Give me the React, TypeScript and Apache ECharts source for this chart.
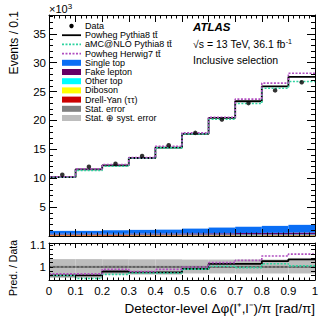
import React, { useEffect, useRef } from 'react';
import * as echarts from 'echarts';

// ---- data (x10^3 events per 0.1) ----
const binEdges = [0, 0.1, 0.2, 0.3, 0.4, 0.5, 0.6, 0.7, 0.8, 0.9, 1.0];
const dataEvents = [10.6, 12.0, 12.5, 13.85, 15.7, 17.85, 20.15, 23.0, 25.2, 26.6];
// prediction / data ratios
const ratioPythia = [0.961, 0.961, 0.979, 0.975, 0.975, 0.991, 1.014, 1.014, 1.027, 1.035];
const ratioAmc = [0.961, 0.947, 0.966, 0.972, 0.972, 0.99, 1.003, 0.997, 1.015, 1.005];
const ratioHerwig = [0.968, 0.968, 0.989, 0.979, 0.989, 1.0, 1.02, 1.03, 1.05, 1.059];
// background stack (bottom to top)
const drellYan = [0.12, 0.12, 0.11, 0.11, 0.11, 0.1, 0.1, 0.1, 0.1, 0.1];
const diboson = [0.05, 0.05, 0.05, 0.05, 0.05, 0.05, 0.05, 0.05, 0.05, 0.05];
const otherTop = [0.08, 0.08, 0.09, 0.09, 0.09, 0.1, 0.1, 0.11, 0.11, 0.12];
const fakeLepton = [0.15, 0.15, 0.16, 0.17, 0.18, 0.2, 0.22, 0.25, 0.28, 0.32];
const singleTop = [0.49, 0.49, 0.59, 0.64, 0.67, 0.83, 0.99, 1.07, 1.21, 1.34];
// ratio uncertainties
const statErr = [0.005, 0.005, 0.005, 0.005, 0.005, 0.005, 0.005, 0.005, 0.005, 0.005];
const systUp = [0.036, 0.036, 0.035, 0.035, 0.035, 0.034, 0.034, 0.034, 0.034, 0.034];
const systDown = [0.05, 0.05, 0.035, 0.035, 0.035, 0.03, 0.03, 0.03, 0.03, 0.03];
const unity = 1;
// tick labels
const xTickLabels = ['0', '0.1', '0.2', '0.3', '0.4', '0.5', '0.6', '0.7', '0.8', '0.9', '1'];
const yTickLabels = ['5', '10', '15', '20', '25', '30', '35'];
const ratioTickLabels = ['1', '1.1'];

const FONT = '"Liberation Sans", Arial, sans-serif';

const pythia = dataEvents.map((d, i) => d * ratioPythia[i]);
const amc = dataEvents.map((d, i) => d * ratioAmc[i]);
const herwig = dataEvents.map((d, i) => d * ratioHerwig[i]);

function stepPoints(vals: number[]) {
  const pts: number[][] = [];
  vals.forEach((v, i) => {
    pts.push([binEdges[i], v]);
    pts.push([binEdges[i + 1], v]);
  });
  return pts;
}

function rectSeries(rects: number[][], color: string, axisIdx: number, z: number) {
  return {
    type: 'custom',
    xAxisIndex: axisIdx,
    yAxisIndex: axisIdx,
    z,
    silent: true,
    data: rects,
    encode: { x: [0, 1], y: [2, 3] },
    renderItem: (_p: any, api: any) => {
      const a = api.coord([api.value(0), api.value(3)]);
      const b = api.coord([api.value(1), api.value(2)]);
      return {
        type: 'rect',
        shape: { x: a[0], y: a[1], width: b[0] - a[0], height: b[1] - a[1] },
        style: { fill: color },
      };
    },
  };
}

function lineSeries(vals: number[], color: string, axisIdx: number, dotted: boolean, z: number, width = 1.6) {
  return {
    type: 'line',
    xAxisIndex: axisIdx,
    yAxisIndex: axisIdx,
    z,
    silent: true,
    symbol: 'none',
    data: stepPoints(vals),
    lineStyle: { color, width, type: dotted ? [2, 1.5] : 'solid' },
  };
}

export default function App() {
  const ref = useRef<HTMLDivElement>(null);
  useEffect(() => {
    const chart = echarts.init(ref.current!, null, { renderer: 'svg' });

    const stackComps = [
      { vals: drellYan, color: '#cc0000' },
      { vals: diboson, color: '#ffff00' },
      { vals: otherTop, color: '#00ffff' },
      { vals: fakeLepton, color: '#660066' },
      { vals: singleTop, color: '#0a6ef5' },
    ];
    const cum = new Array(10).fill(0);
    const stackSeries = stackComps.map((c) => {
      const rects = c.vals.map((v, i) => {
        const r = [binEdges[i], binEdges[i + 1], cum[i], cum[i] + v];
        cum[i] += v;
        return r;
      });
      return rectSeries(rects, c.color, 0, 2);
    });

    const systRects = systUp.map((u, i) => [binEdges[i], binEdges[i + 1], unity - systDown[i], unity + u]);
    const statRects = statErr.map((s, i) => [binEdges[i], binEdges[i + 1], unity - s, unity + s]);

    const tickStyle = { color: '#000', width: 1 };
    const baseX = (grid: number, pos: string, labels: boolean) => ({
      type: 'value',
      gridIndex: grid,
      position: pos,
      min: 0,
      max: 1,
      interval: 0.1,
      z: 10,
      axisLine: { show: true, onZero: false, lineStyle: { color: '#000', width: 1 } },
      axisTick: { show: true, inside: true, length: grid === 0 ? 7 : 5, lineStyle: tickStyle },
      minorTick: { show: true, splitNumber: 5, length: grid === 0 ? 3.5 : 2.5, lineStyle: tickStyle },
      splitLine: { show: false },
      axisLabel: {
        show: labels,
        margin: 5,
        fontFamily: FONT,
        fontSize: 11.5,
        color: '#000',
        formatter: (v: number) => xTickLabels[Math.round(v * 10)] ?? '',
      },
    });
    const mainY = (pos: string, labels: boolean) => ({
      type: 'value',
      gridIndex: 0,
      position: pos,
      min: 0,
      max: 38.25,
      interval: 5,
      z: 10,
      axisLine: { show: true, onZero: false, lineStyle: { color: '#000', width: 1 } },
      axisTick: { show: true, inside: true, length: 8, lineStyle: tickStyle },
      minorTick: { show: true, splitNumber: 5, length: 4, lineStyle: tickStyle },
      splitLine: { show: false },
      axisLabel: {
        show: labels,
        margin: 3,
        fontFamily: FONT,
        fontSize: 11.5,
        color: '#000',
        formatter: (v: number) => {
          const idx = yTickLabels.indexOf(String(Math.round(v)));
          return Math.abs(v - Math.round(v)) < 1e-6 && idx >= 0 ? yTickLabels[idx] : '';
        },
      },
    });
    const ratioY = (pos: string, labels: boolean) => ({
      type: 'value',
      gridIndex: 1,
      position: pos,
      min: 0.94,
      max: 1.11,
      interval: 0.02,
      z: 10,
      axisLine: { show: true, onZero: false, lineStyle: { color: '#000', width: 1 } },
      axisTick: { show: true, inside: true, length: 4, lineStyle: tickStyle },
      splitLine: { show: false },
      axisLabel: {
        show: labels,
        margin: 3,
        fontFamily: FONT,
        fontSize: 11.5,
        color: '#000',
        formatter: (v: number) => {
          for (const t of ratioTickLabels) if (Math.abs(v - parseFloat(t)) < 1e-6) return t;
          return '';
        },
      },
    });

    const legendItems = [
      { label: 'Data', kind: 'dot', color: '#000' },
      { label: 'Powheg Pythia8 tt\u0304', kind: 'line', color: '#000' },
      { label: 'aMC@NLO Pythia8 tt\u0304', kind: 'dots', color: '#2ed3a0' },
      { label: 'Powheg Herwig7 tt\u0304', kind: 'dots', color: '#b04fc0' },
      { label: 'Single top', kind: 'box', color: '#0a6ef5' },
      { label: 'Fake lepton', kind: 'box', color: '#660066' },
      { label: 'Other top', kind: 'box', color: '#00ffff' },
      { label: 'Diboson', kind: 'box', color: '#ffff00' },
      { label: 'Drell-Yan (\u03c4\u03c4)', kind: 'box', color: '#cc0000' },
      { label: 'Stat. error', kind: 'box', color: '#808080' },
      { label: 'Stat. \u2295 syst. error', kind: 'box', color: '#bdbdbd' },
    ];
    const legendEls: any[] = [];
    legendItems.forEach((it, i) => {
      const y = 26 + i * 9.2;
      if (it.kind === 'dot') {
        legendEls.push({ type: 'circle', shape: { cx: 71.5, cy: y, r: 2.2 }, style: { fill: it.color } });
      } else if (it.kind === 'line') {
        legendEls.push({ type: 'line', shape: { x1: 62, y1: y, x2: 81, y2: y }, style: { stroke: it.color, lineWidth: 1.8 } });
      } else if (it.kind === 'dots') {
        legendEls.push({ type: 'line', shape: { x1: 62, y1: y, x2: 81, y2: y }, style: { stroke: it.color, lineWidth: 1.6, lineDash: [2, 1.5] } });
      } else {
        legendEls.push({ type: 'rect', shape: { x: 62, y: y - 3, width: 19, height: 6 }, style: { fill: it.color } });
      }
      legendEls.push({
        type: 'text',
        x: 85,
        y,
        style: { text: it.label, font: `9px ${FONT}`, fill: '#000', textVerticalAlign: 'middle' },
      });
    });

    const option: any = {
      animation: false,
      backgroundColor: '#fff',
      grid: [
        { left: 49, top: 15, width: 266, height: 221, containLabel: false },
        { left: 49, top: 243, width: 266, height: 37, containLabel: false },
      ],
      xAxis: [baseX(0, 'bottom', false), baseX(0, 'top', false), baseX(1, 'bottom', true), baseX(1, 'top', false)],
      yAxis: [mainY('left', true), mainY('right', false), ratioY('left', true), ratioY('right', false)],
      series: [
        ...stackSeries,
        lineSeries(pythia, '#000', 0, false, 3, 1.8),
        lineSeries(amc, '#2ed3a0', 0, true, 4),
        lineSeries(herwig, '#b04fc0', 0, true, 4),
        {
          type: 'scatter',
          xAxisIndex: 0,
          yAxisIndex: 0,
          z: 6,
          silent: true,
          symbol: 'circle',
          symbolSize: 4.5,
          itemStyle: { color: '#000' },
          data: dataEvents.map((v, i) => [(binEdges[i] + binEdges[i + 1]) / 2, v]),
        },
        // ratio panel (xAxisIndex 2 / yAxisIndex 2)
        { ...rectSeries(systRects, '#bdbdbd', 2, 1) },
        { ...rectSeries(statRects, '#808080', 2, 2) },
        {
          type: 'line',
          xAxisIndex: 2,
          yAxisIndex: 2,
          z: 3,
          silent: true,
          symbol: 'none',
          data: [[binEdges[0], unity], [binEdges[binEdges.length - 1], unity]],
          lineStyle: { color: '#444', width: 1, type: [2, 2] },
        },
        lineSeries(ratioPythia, '#000', 2, false, 4, 1.8),
        lineSeries(ratioAmc, '#2ed3a0', 2, true, 5),
        lineSeries(ratioHerwig, '#b04fc0', 2, true, 5),
      ],
      graphic: [
        ...legendEls,
        {
          type: 'text',
          x: 49,
          y: 9,
          style: {
            text: '\u00d710{s|3}',
            font: `11px ${FONT}`,
            fill: '#000',
            textVerticalAlign: 'middle',
            rich: { s: { fontSize: 8, fontFamily: FONT, verticalAlign: 'top', padding: [0, 0, 6, 0] } },
          },
        },
        {
          type: 'text',
          x: 193,
          y: 27,
          style: { text: 'ATLAS', font: `italic bold 11.5px ${FONT}`, fill: '#000', textVerticalAlign: 'middle' },
        },
        {
          type: 'text',
          x: 193,
          y: 44,
          style: {
            text: '\u221as = 13 TeV, 36.1 fb{s|-1}',
            font: `10.5px ${FONT}`,
            fill: '#000',
            textVerticalAlign: 'middle',
            rich: { s: { fontSize: 7, fontFamily: FONT, padding: [0, 0, 6, 0] } },
          },
        },
        {
          type: 'text',
          x: 193,
          y: 60,
          style: { text: 'Inclusive selection', font: `10.5px ${FONT}`, fill: '#000', textVerticalAlign: 'middle' },
        },
        {
          type: 'text',
          x: 14,
          y: 11,
          rotation: Math.PI / 2,
          style: { text: 'Events / 0.1', font: `12px ${FONT}`, fill: '#000', textAlign: 'right', textVerticalAlign: 'middle' },
        },
        {
          type: 'text',
          x: 13,
          y: 268,
          rotation: Math.PI / 2,
          style: { text: 'Pred. / Data', font: `10.5px ${FONT}`, fill: '#000', textAlign: 'center', textVerticalAlign: 'middle' },
        },
        {
          type: 'text',
          x: 315,
          y: 308,
          style: {
            text: 'Detector-level \u0394\u03c6(l\u207a,l\u207b)/\u03c0 [rad/\u03c0]',
            font: `13.5px ${FONT}`,
            fill: '#000',
            textAlign: 'right',
            textVerticalAlign: 'middle',
          },
        },
      ],
    };
    chart.setOption(option);
    return () => chart.dispose();
  }, []);
  return <div ref={ref} style={{ position: 'absolute', left: 0, top: 0, width: 332, height: 322 }} />;
}
